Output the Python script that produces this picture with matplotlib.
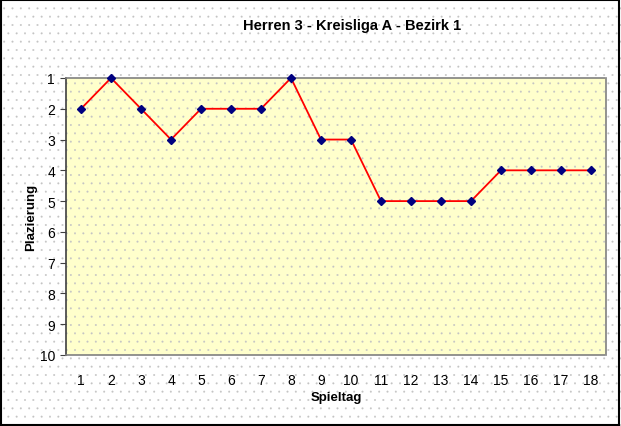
import matplotlib
matplotlib.use("Agg")
import matplotlib.pyplot as plt
from matplotlib.patches import Rectangle

plt.rcParams["font.family"] = ["Liberation Sans", "DejaVu Sans"]
plt.rcParams["hatch.linewidth"] = 0.2

spieltag = list(range(1, 19))
platz = [2, 1, 2, 3, 2, 2, 2, 1, 3, 3, 5, 5, 5, 5, 4, 4, 4, 4]
y_ticks = list(range(1, 11))

DOT = "#c4c4c4"

fig = plt.figure(figsize=(6.21, 4.27), dpi=100)
fig.patch.set_facecolor("white")

# dotted background and black frame of the chart
bg = Rectangle((0, 0), 1, 1, transform=fig.transFigure, facecolor="white",
               edgecolor=DOT, linewidth=0, hatch="..", zorder=-2)
fig.patches.append(bg)
frame = Rectangle((0.002, 0.003), 0.995, 0.994, transform=fig.transFigure,
                  facecolor="none", edgecolor="black", linewidth=1.5, zorder=5)
fig.patches.append(frame)

ax = fig.add_axes([0.1063, 0.1663, 0.8695, 0.6487])
ax.set_facecolor("#ffffcc")
ax.add_patch(Rectangle((0, 0), 1, 1, transform=ax.transAxes, facecolor="none",
                       edgecolor=DOT, linewidth=0, hatch="..", zorder=0))

ax.plot(spieltag, platz, color="#ff0000", linewidth=1.3, zorder=3,
        clip_on=False)
ax.plot(spieltag, platz, linestyle="none", marker="D", markersize=4.5,
        color="#000080", zorder=4, clip_on=False)

ax.set_xlim(0.5, 18.5)
ax.set_ylim(10, 1)
ax.set_xticks(spieltag)
ax.set_yticks(y_ticks)
ax.tick_params(axis="x", length=0, labelsize=10, pad=13)
ax.tick_params(axis="y", length=4, labelsize=10, pad=4, color="#404040")

ax.spines["left"].set_color("#404040")
ax.spines["left"].set_linewidth(1.2)
for side in ["top", "right", "bottom"]:
    ax.spines[side].set_linestyle((0, (2, 1)))
    ax.spines[side].set_color("#808080")
    ax.spines[side].set_linewidth(1.2)

ax.set_xlabel("Spieltag", fontsize=9.5, fontweight="bold", labelpad=3)
ax.set_ylabel("Plazierung", fontsize=9.5, fontweight="bold", labelpad=2)

fig.text(0.567, 0.94, "Herren 3 - Kreisliga A - Bezirk 1", ha="center",
         va="center", fontsize=10.5, fontweight="bold")

fig.savefig("out.png", dpi=100)
